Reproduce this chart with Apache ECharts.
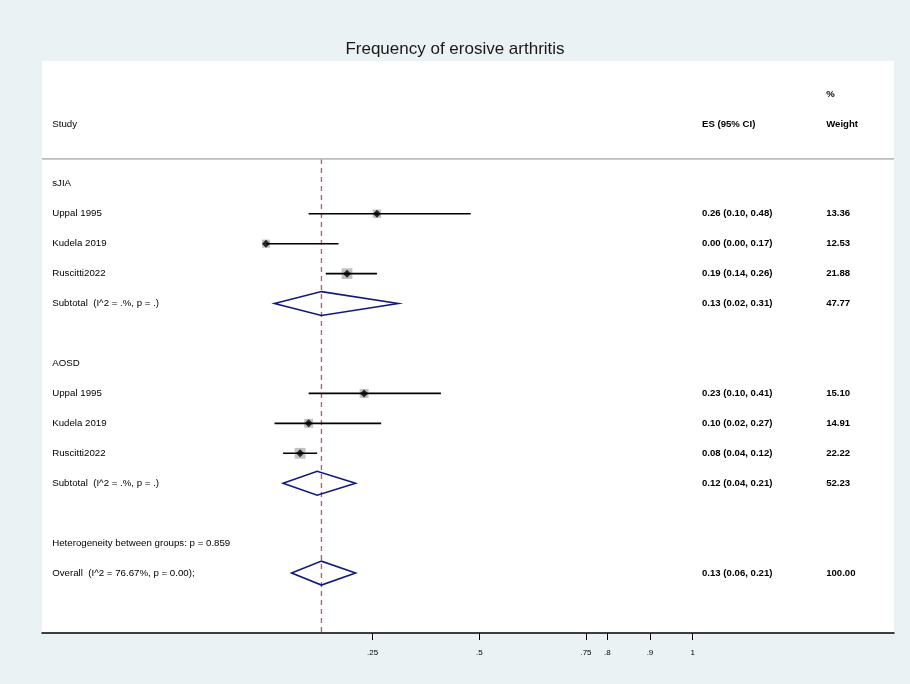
<!DOCTYPE html>
<html>
<head>
<meta charset="utf-8">
<script src="https://cdn.jsdelivr.net/npm/echarts@6/dist/echarts.min.js"></script>
<style>
  html, body { margin: 0; padding: 0; background: #eaf2f3; }
  #chart { width: 910px; height: 684px; }
</style>
</head>
<body>
<div id="chart"></div>
<script>
// Individual studies (row index counts down the plot from the first group label)
const studyNames   = ['Uppal 1995', 'Kudela 2019', 'Ruscitti2022', 'Uppal 1995', 'Kudela 2019', 'Ruscitti2022'];
const studyRows    = [1, 2, 3, 7, 8, 9];
const studyES      = [0.26, 0.00, 0.19, 0.23, 0.10, 0.08];
const studyLow     = [0.10, 0.00, 0.14, 0.10, 0.02, 0.04];
const studyHigh    = [0.48, 0.17, 0.26, 0.41, 0.27, 0.12];
const studyWeights = [13.36, 12.53, 21.88, 15.10, 14.91, 22.22];
const studyCI      = ['0.26 (0.10, 0.48)', '0.00 (0.00, 0.17)', '0.19 (0.14, 0.26)',
                      '0.23 (0.10, 0.41)', '0.10 (0.02, 0.27)', '0.08 (0.04, 0.12)'];

// Pooled estimates (two subgroup subtotals and the overall estimate)
const pooledNames   = ['Subtotal  (I^2 = .%, p = .)', 'Subtotal  (I^2 = .%, p = .)', 'Overall  (I^2 = 76.67%, p = 0.00);'];
const pooledRows    = [4, 10, 13];
const pooledES      = [0.13, 0.12, 0.13];
const pooledLow     = [0.02, 0.04, 0.06];
const pooledHigh    = [0.31, 0.21, 0.21];
const pooledWeights = ['47.77', '52.23', '100.00'];
const pooledCI      = ['0.13 (0.02, 0.31)', '0.12 (0.04, 0.21)', '0.13 (0.06, 0.21)'];

// Group headings and notes
const groupLabels = ['sJIA', 'AOSD', 'Heterogeneity between groups: p = 0.859'];
const groupRows   = [0, 6, 12];

// Reference line at the overall estimate
const overallES = 0.13;

// Axis ticks
const tickValues = [0.25, 0.5, 0.75, 0.8, 0.9, 1];
const tickLabels = ['.25', '.5', '.75', '.8', '.9', '1'];

// Layout (in data units)
const X_MIN = -0.525, X_MAX = 1.472;
const Y_MIN = -4.1, Y_MAX = 15;
const COL_STUDY = -0.501, COL_ES = 1.022, COL_WT = 1.313;
const HEADER_ROW = -2, PCT_ROW = -3, RULE_ROW = -0.83;
const DIAMOND_HALF = 0.4;

const FONT = '"Liberation Sans", Arial, Helvetica, sans-serif';
const LEFT_SIZE = 9.7, RIGHT_SIZE = 9.6;

// Text cells: [x, row, text, fontSize, fontWeight]
const textCells = [];
textCells.push([COL_WT, PCT_ROW, '%', RIGHT_SIZE, 'bold']);
textCells.push([COL_STUDY, HEADER_ROW, 'Study', LEFT_SIZE, 'normal']);
textCells.push([COL_ES, HEADER_ROW, 'ES (95% CI)', RIGHT_SIZE, 'bold']);
textCells.push([COL_WT, HEADER_ROW, 'Weight', RIGHT_SIZE, 'bold']);
groupLabels.forEach((t, i) => textCells.push([COL_STUDY, groupRows[i], t, LEFT_SIZE, 'normal']));
studyNames.forEach((t, i) => {
  textCells.push([COL_STUDY, studyRows[i], t, LEFT_SIZE, 'normal']);
  textCells.push([COL_ES, studyRows[i], studyCI[i], RIGHT_SIZE, 'bold']);
  textCells.push([COL_WT, studyRows[i], studyWeights[i].toFixed(2), RIGHT_SIZE, 'bold']);
});
pooledNames.forEach((t, i) => {
  textCells.push([COL_STUDY, pooledRows[i], t, LEFT_SIZE, 'normal']);
  textCells.push([COL_ES, pooledRows[i], pooledCI[i], RIGHT_SIZE, 'bold']);
  textCells.push([COL_WT, pooledRows[i], pooledWeights[i], RIGHT_SIZE, 'bold']);
});

const ciData = studyNames.map((_, i) => [studyLow[i], studyHigh[i], studyRows[i]]);
const boxData = studyNames.map((_, i) => [studyES[i], studyRows[i], studyWeights[i]]);
const pointData = studyNames.map((_, i) => [studyES[i], studyRows[i]]);
const diamondData = pooledRows.map((r, i) => [pooledLow[i], pooledES[i], pooledHigh[i], r]);

const chart = echarts.init(document.getElementById('chart'), null, { renderer: 'canvas' });

const option = {
  backgroundColor: '#eaf2f3',
  animation: false,
  title: {
    text: 'Frequency of erosive arthritis',
    left: 'center',
    top: 36,
    textStyle: { fontFamily: FONT, fontSize: 17, fontWeight: 'normal', color: '#1a1a1a' }
  },
  grid: { left: 42, right: 16, top: 61, bottom: 51, show: true, backgroundColor: '#ffffff', borderWidth: 0 },
  xAxis: {
    type: 'value',
    min: X_MIN, max: X_MAX,
    axisLine: { show: true, onZero: false, lineStyle: { color: '#000', width: 1.5 } },
    axisTick: { show: true, length: 7, customValues: tickValues, lineStyle: { color: '#000', width: 1 } },
    axisLabel: {
      show: true, customValues: tickValues, margin: 16,
      fontFamily: FONT, fontSize: 8, color: '#000',
      formatter: v => tickLabels[tickValues.findIndex(t => Math.abs(t - v) < 1e-9)]
    },
    splitLine: { show: false }
  },
  yAxis: {
    type: 'value', inverse: true, min: Y_MIN, max: Y_MAX,
    show: false, splitLine: { show: false }
  },
  series: [
    // rule under the column headings
    {
      type: 'line', silent: true, symbol: 'none',
      data: [[X_MIN, RULE_ROW], [X_MAX, RULE_ROW]],
      lineStyle: { color: '#bdbdbd', width: 1.8 }
    },
    // dashed line at the overall estimate
    {
      type: 'line', silent: true, symbol: 'none', z: 1,
      data: [[overallES, RULE_ROW], [overallES, Y_MAX]],
      lineStyle: { color: '#b2646b', width: 1.4, type: [5, 4] }
    },
    // weight boxes
    {
      type: 'scatter', silent: true, symbol: 'rect', z: 2,
      data: boxData,
      symbolSize: d => 2.3 * Math.sqrt(d[2]),
      itemStyle: { color: '#bababa', opacity: 0.9 }
    },
    // confidence intervals
    {
      type: 'custom', silent: true, z: 3,
      data: ciData,
      renderItem: (params, api) => {
        const a = api.coord([api.value(0), api.value(2)]);
        const b = api.coord([api.value(1), api.value(2)]);
        return {
          type: 'line',
          shape: { x1: a[0], y1: a[1], x2: b[0], y2: b[1] },
          style: { stroke: '#000', lineWidth: 1.6 }
        };
      }
    },
    // point estimates
    {
      type: 'scatter', silent: true, symbol: 'diamond', symbolSize: 8, z: 4,
      data: pointData,
      itemStyle: { color: '#000' }
    },
    // pooled-estimate diamonds
    {
      type: 'custom', silent: true, z: 3,
      data: diamondData,
      renderItem: (params, api) => {
        const r = api.value(3);
        const pts = [
          api.coord([api.value(0), r]),
          api.coord([api.value(1), r - DIAMOND_HALF]),
          api.coord([api.value(2), r]),
          api.coord([api.value(1), r + DIAMOND_HALF])
        ];
        return {
          type: 'polygon',
          shape: { points: pts },
          style: { fill: 'none', stroke: '#111a78', lineWidth: 1.6 }
        };
      }
    },
    // table text
    {
      type: 'custom', silent: true, z: 5,
      data: textCells,
      renderItem: (params, api) => {
        const p = api.coord([api.value(0), api.value(1)]);
        const cell = textCells[params.dataIndex];
        return {
          type: 'text',
          x: p[0], y: p[1],
          style: {
            text: cell[2],
            fill: '#000',
            fontFamily: FONT,
            fontSize: cell[3],
            fontWeight: cell[4],
            align: 'left',
            verticalAlign: 'middle'
          }
        };
      }
    }
  ]
};

chart.setOption(option);
</script>
</body>
</html>
